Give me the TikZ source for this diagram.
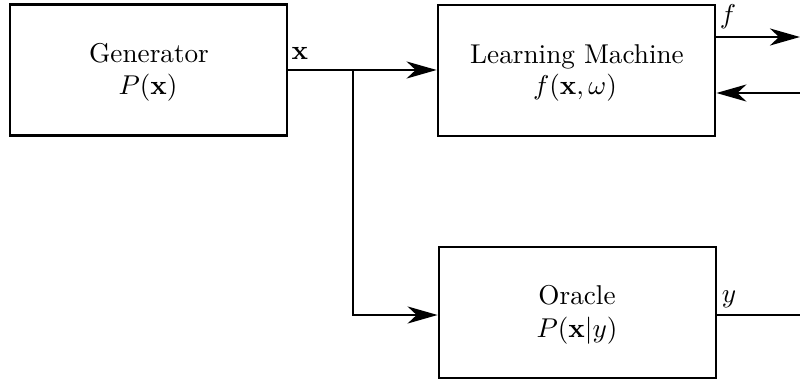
\documentclass[tikz,border=0pt]{standalone}
\usepackage{graphicx}
\usetikzlibrary{arrows.meta}
\newcommand{\bigtxt}[1]{\scalebox{2.72}{#1}}
\begin{document}
\begin{tikzpicture}[x=1pt,y=-1pt,
  blk/.style={draw,line width=2.7pt,minimum width=277pt,minimum height=131pt,inner sep=0pt},
  txt/.style={anchor=base,inner sep=0pt},
  wire/.style={line width=2.7pt},
  arr/.style={wire,-{Stealth[length=30pt,width=17pt,inset=9pt]}},
  lbl/.style={inner sep=0pt}]
\useasboundingbox (0,0) rectangle (800,379);
\node[blk] (gen) at (148.5,70) {};
\node[blk] (lm) at (576.5,70.5) {};
\node[blk] (or) at (577.5,312.5) {};
\node[txt] (genA) at (149,63) {\bigtxt{Generator}};
\node[txt] (genB) at (148,95) {\bigtxt{$P(\mathbf{x})$}};
\node[txt] (lmA) at (577,64) {\bigtxt{Learning Machine}};
\node[txt] (lmB) at (575,95) {\bigtxt{$f(\mathbf{x},\omega)$}};
\node[txt] (orA) at (577,305) {\bigtxt{Oracle}};
\node[txt] (orB) at (577,337) {\bigtxt{$P(\mathbf{x}|y)$}};
\coordinate (br) at (353,70);
\coordinate (fout) at (800,37);
\coordinate (fbin) at (800,93);
\coordinate (yout) at (800,315);
\draw[arr] (gen.east |- br) -- (lm.west |- br);
\draw[arr] (br) |- (or.west |- yout);
\draw[arr] (lm.east |- fout) -- (fout);
\draw[arr] (fbin) -- (lm.east |- fbin);
\draw[wire] (or.east |- yout) -- (yout);
\node[lbl,anchor=base] (lx) at (300,60) {\bigtxt{$\mathbf{x}$}};
\node[lbl,anchor=base] (lf) at (728,24) {\bigtxt{$f$}};
\node[lbl,anchor=base] (ly) at (729,302) {\bigtxt{$y$}};
\end{tikzpicture}
\end{document}
